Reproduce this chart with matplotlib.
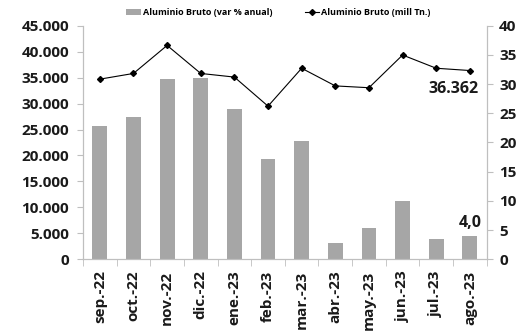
import matplotlib
matplotlib.use("Agg")
import matplotlib.pyplot as plt
import numpy as np
from matplotlib.ticker import FuncFormatter

categories = ["sep.-22", "oct.-22", "nov.-22", "dic.-22", "ene.-23", "feb.-23",
              "mar.-23", "abr.-23", "may.-23", "jun.-23", "jul.-23", "ago.-23"]
var_anual = [22.8, 24.4, 30.8, 31.0, 25.7, 17.2, 20.3, 2.8, 5.4, 9.9, 3.4, 4.0]
mill_tn = [34700, 35800, 41200, 35800, 35100, 29500, 36800, 33400, 33050, 39350, 36800, 36362]

plt.rcParams['font.family'] = ['Open Sans', 'DejaVu Sans']
plt.rcParams['font.weight'] = 'bold'

fig = plt.figure(figsize=(5.3, 3.31), dpi=100)
ax = fig.add_axes([0.1566, 0.2166, 0.9183 - 0.1566, 0.9224 - 0.2166])
ax2 = ax.twinx()

x = np.arange(len(categories))
spine_col = "#BFBFBF"
txt_col = "#1a1a1a"

# Bars on right axis
ax2.bar(x, var_anual, width=0.44, color="#A6A6A6", label="Aluminio Bruto (var % anual)", zorder=1)
# Line on left axis
ax.plot(x, mill_tn, color="black", lw=0.8, marker="D", ms=3, label="Aluminio Bruto (mill Tn.)", zorder=5)

ax.set_zorder(ax2.get_zorder() + 1)
ax.patch.set_visible(False)

ax.set_xlim(-0.5, len(categories) - 0.5)
ax.set_ylim(0, 45000)
ax2.set_ylim(0, 40)
ax.set_yticks(np.arange(0, 45001, 5000))
ax2.set_yticks(np.arange(0, 41, 5))
ax.yaxis.set_major_formatter(FuncFormatter(lambda v, p: f"{int(v):,}".replace(",", ".")))

ax.set_xticks(x)
ax.set_xticklabels(categories, rotation=90, fontsize=11, fontweight='bold', color=txt_col)
ax.set_xticks(np.arange(-0.5, len(categories), 1), minor=True)
ax.tick_params(axis='x', which='major', length=0, pad=8)
ax.tick_params(axis='x', which='minor', length=5, color=spine_col, direction='out')

ax.tick_params(axis='y', labelsize=11, length=4, color=spine_col, pad=6, labelcolor=txt_col)
ax2.tick_params(axis='y', labelsize=11, length=4, color=spine_col, pad=5, labelcolor=txt_col)
for lab in ax.get_yticklabels() + ax2.get_yticklabels():
    lab.set_fontweight('bold')

for a in (ax, ax2):
    a.spines['top'].set_visible(False)
    for s in ('left', 'right', 'bottom'):
        a.spines[s].set_color(spine_col)
        a.spines[s].set_linewidth(0.8)

# Data labels
ax.annotate(f"{mill_tn[-1]:,}".replace(",", "."), (x[-1], mill_tn[-1]),
            xytext=(-12, -13), textcoords="offset points", ha="center", va="center",
            fontsize=11.5, fontweight='bold', color=txt_col)
ax2.annotate(f"{var_anual[-1]:.1f}".replace(".", ","), (x[-1], var_anual[-1]),
             xytext=(0, 9), textcoords="offset points", ha="center", va="center",
             fontsize=11.5, fontweight='bold', color=txt_col)

# Legend
h1, l1 = ax2.get_legend_handles_labels()
h2, l2 = ax.get_legend_handles_labels()
leg = fig.legend(h1 + h2, l1 + l2, loc="center", bbox_to_anchor=(0.525, 0.962), ncol=2,
                 frameon=False, prop={'weight': 'bold', 'size': 6.5},
                 handlelength=1.6, handleheight=0.7, columnspacing=3.6, handletextpad=0.2)

fig.savefig("out.png", dpi=100)
